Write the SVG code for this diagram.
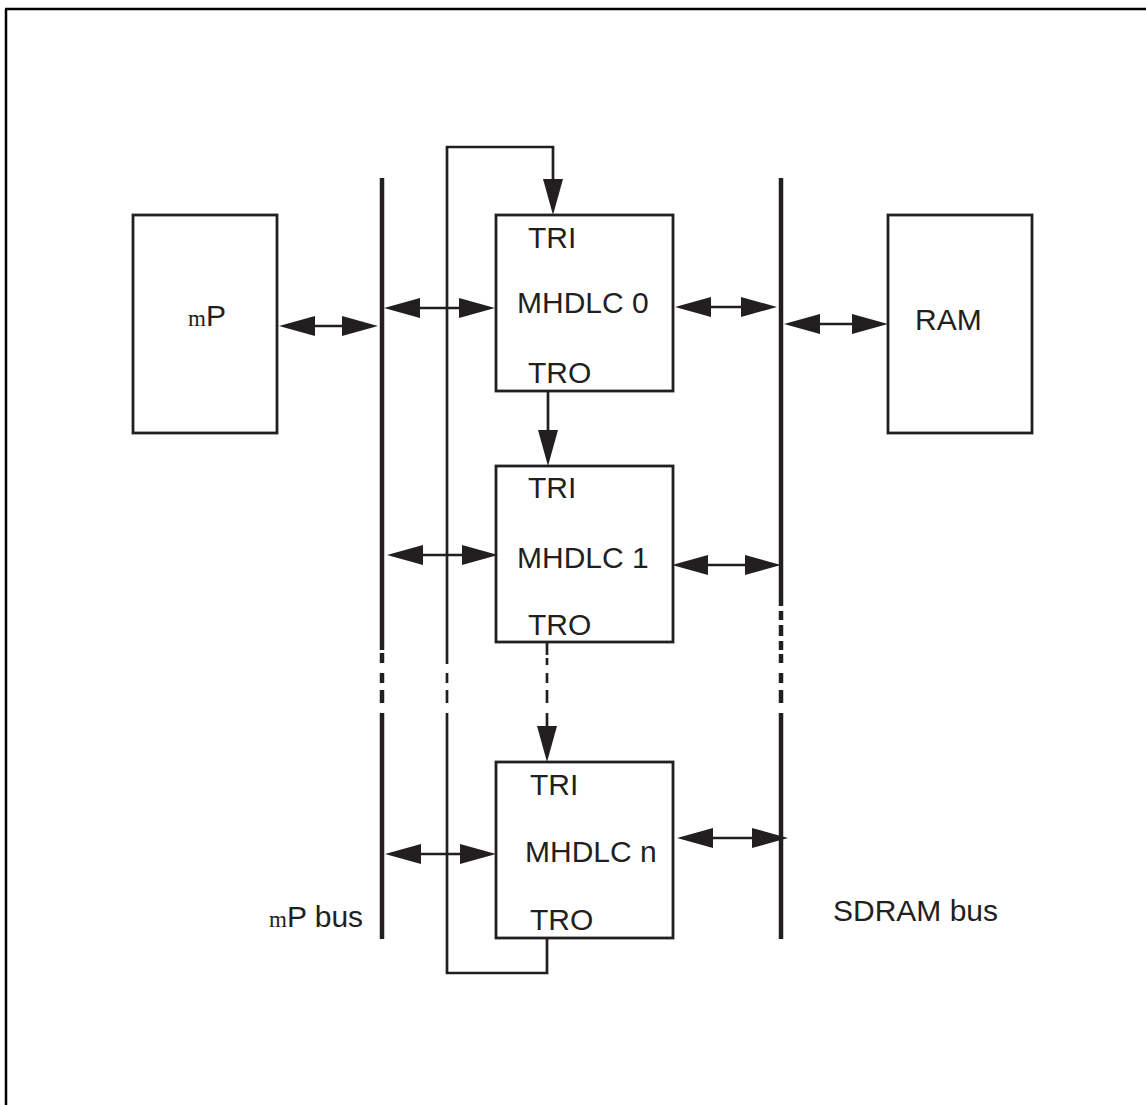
<svg xmlns="http://www.w3.org/2000/svg" width="1146" height="1105" viewBox="0 0 1146 1105">
<defs>
<marker id="ah" markerUnits="userSpaceOnUse" markerWidth="36" markerHeight="20" viewBox="0 0 36 20" refX="4" refY="10" orient="auto-start-reverse">
<path d="M0,0 L36,10 L0,20 z" fill="#231f20"/>
</marker>
<style>
.box{fill:#fff;stroke:#231f20;stroke-width:2.8}
.t{font-family:"Liberation Sans",Arial,sans-serif;font-size:30px;fill:#231f20}
.s{font-family:"Liberation Serif","Times New Roman",serif;font-size:23px}
.bus{stroke:#231f20;stroke-width:4.5;fill:none}
.ln{stroke:#231f20;stroke-width:2.7;fill:none}
.ar{stroke:#231f20;stroke-width:2.7;fill:none;marker-start:url(#ah);marker-end:url(#ah)}
.ae{stroke:#231f20;stroke-width:2.7;fill:none;marker-end:url(#ah)}
</style>
</defs>
<rect width="1146" height="1105" fill="#fff"/>
<g id="frame">
<line x1="6" y1="9" x2="6" y2="1105" stroke="#000" stroke-width="2.5"/>
<line x1="5" y1="9" x2="1146" y2="9" stroke="#000" stroke-width="2.5"/>
</g>
<g id="buses">
<g id="mp-bus">
<line class="bus" x1="382" y1="178" x2="382" y2="650"/>
<line class="bus" x1="382" y1="653" x2="382" y2="663"/>
<line class="bus" x1="382" y1="673" x2="382" y2="683"/>
<line class="bus" x1="382" y1="690" x2="382" y2="703"/>
<line class="bus" x1="382" y1="713" x2="382" y2="939"/>
</g>
<g id="sdram-bus">
<line class="bus" x1="781" y1="178" x2="781" y2="606"/>
<line class="bus" x1="781" y1="611" x2="781" y2="620"/>
<line class="bus" x1="781" y1="625" x2="781" y2="636"/>
<line class="bus" x1="781" y1="641" x2="781" y2="650"/>
<line class="bus" x1="781" y1="654" x2="781" y2="663"/>
<line class="bus" x1="781" y1="673" x2="781" y2="683"/>
<line class="bus" x1="781" y1="690" x2="781" y2="703"/>
<line class="bus" x1="781" y1="713" x2="781" y2="939"/>
</g>
</g>
<g id="mp">
<rect class="box" x="133" y="215" width="144" height="218"/>
<text class="t" x="188" y="326"><tspan class="s">m</tspan><tspan>P</tspan></text>
</g>
<g id="ram">
<rect class="box" x="888" y="215" width="144" height="218"/>
<text class="t" x="915" y="330">RAM</text>
</g>
<g id="mhdlc0">
<rect class="box" x="496" y="215" width="177" height="176"/>
<text class="t" x="528" y="248">TRI</text>
<text class="t" x="517" y="313">MHDLC 0</text>
<text class="t" x="528" y="383">TRO</text>
</g>
<g id="mhdlc1">
<rect class="box" x="496" y="466" width="177" height="176"/>
<text class="t" x="528" y="498">TRI</text>
<text class="t" x="517" y="568">MHDLC 1</text>
<text class="t" x="528" y="635">TRO</text>
</g>
<g id="mhdlcn">
<rect class="box" x="496" y="762" width="177" height="176"/>
<text class="t" x="530" y="795">TRI</text>
<text class="t" x="525" y="862">MHDLC n</text>
<text class="t" x="530" y="930">TRO</text>
</g>
<g id="labels">
<text class="t" x="269" y="927"><tspan class="s">m</tspan><tspan>P bus</tspan></text>
<text class="t" x="833" y="921">SDRAM bus</text>
</g>
<g id="connectors">
<line class="ar" x1="311" y1="326" x2="346" y2="326"/>
<line class="ar" x1="416" y1="308" x2="463" y2="308"/>
<line class="ar" x1="707" y1="307" x2="745" y2="307"/>
<line class="ar" x1="816" y1="324" x2="856" y2="324"/>
<line class="ar" x1="419" y1="555" x2="466" y2="555"/>
<line class="ar" x1="704" y1="565" x2="749" y2="565"/>
<line class="ar" x1="417" y1="854" x2="464" y2="854"/>
<line class="ar" x1="709" y1="838" x2="756" y2="838"/>
<line class="ae" x1="548" y1="391" x2="548" y2="434"/>
<line class="ln" x1="547" y1="642" x2="547" y2="655"/>
<line class="ln" x1="547" y1="658" x2="547" y2="665"/>
<line class="ln" x1="547" y1="673" x2="547" y2="683"/>
<line class="ln" x1="547" y1="690" x2="547" y2="703"/>
<line class="ae" x1="547" y1="713" x2="547" y2="730"/>
<polyline class="ln" points="547,938 547,973 447,973 447,713"/>
<line class="ln" x1="447" y1="703" x2="447" y2="690"/>
<line class="ln" x1="447" y1="683" x2="447" y2="673"/>
<polyline class="ae" points="447,664 447,147 553,147 553,183"/>
</g>
</svg>
